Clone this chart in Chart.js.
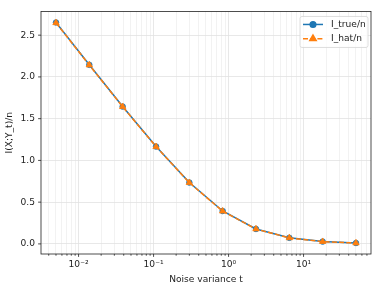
<!DOCTYPE html>
<html><head><meta charset="utf-8">
<script src="https://cdn.jsdelivr.net/npm/chart.js@4.4.1/dist/chart.umd.min.js"></script>
<style>html,body{margin:0;padding:0;background:#fff;}canvas{display:block;}</style>
</head><body>
<canvas id="c" width="381" height="291"></canvas>
<script>
const T_VALUES = [0.005, 0.0139, 0.0387, 0.108, 0.300, 0.834, 2.32, 6.46, 17.97, 50.0];
const I_TRUE   = [2.652, 2.145, 1.645, 1.166, 0.735, 0.394, 0.179, 0.073, 0.028, 0.011];
const I_HAT    = [2.648, 2.142, 1.643, 1.164, 0.733, 0.392, 0.178, 0.072, 0.027, 0.010];
const SERIES_NAMES = ['I_true/n', 'I_hat/n'];
const X_MAJOR  = [0.01, 0.1, 1, 10];
const X_LABELS = ['10\u207B\u00B2', '10\u207B\u00B9', '10\u2070', '10\u00B9'];
const Y_TICKS  = [0, 0.5, 1.0, 1.5, 2.0, 2.5];
const Y_LABELS = ['0.0', '0.5', '1.0', '1.5', '2.0', '2.5'];
const X_MIN = 0.003155, X_MAX = 79.3, Y_MIN = -0.121, Y_MAX = 2.784;

const FONT = {family: 'DejaVu Sans', size: 9.1};
const BLUE = '#1f77b4', ORANGE = '#ff7f0e';

function isMajor(v) {
  return X_MAJOR.some(m => Math.abs(m - v) / m < 1e-6);
}
function minorTicks() {
  const out = [];
  for (let e = -3; e <= 1; e++) {
    for (let k = 1; k <= 9; k++) {
      const v = k * Math.pow(10, e);
      if (v >= X_MIN && v <= X_MAX) out.push(v);
    }
  }
  return out;
}

const frame = {
  id: 'frame',
  afterDatasetsDraw(chart) {
    const ctx = chart.ctx, a = chart.chartArea;
    const xs = chart.scales.x, ys = chart.scales.y;
    ctx.save();
    ctx.strokeStyle = '#222';
    ctx.lineWidth = 0.8;
    ctx.strokeRect(a.left, a.top, a.right - a.left, a.bottom - a.top);
    ctx.beginPath();
    xs.ticks.forEach(t => {
      const px = xs.getPixelForValue(t.value);
      const len = isMajor(t.value) ? 2.9 : 1.7;
      ctx.moveTo(px, a.bottom);
      ctx.lineTo(px, a.bottom + len);
    });
    ys.ticks.forEach(t => {
      const py = ys.getPixelForValue(t.value);
      ctx.moveTo(a.left, py);
      ctx.lineTo(a.left - 2.9, py);
    });
    ctx.stroke();
    ctx.restore();
  },
  afterDraw(chart) {
    const ctx = chart.ctx, a = chart.chartArea;
    const w = 68, h = 31;
    const x0 = a.right - 3 - w, y0 = a.top + 5;
    ctx.save();
    ctx.beginPath();
    if (ctx.roundRect) ctx.roundRect(x0, y0, w, h, 2); else ctx.rect(x0, y0, w, h);
    ctx.fillStyle = 'rgba(255,255,255,0.8)';
    ctx.fill();
    ctx.strokeStyle = '#d6d6d6';
    ctx.lineWidth = 0.8;
    ctx.stroke();
    const items = [0, 1].map(i => chart.data.datasets[i]);
    items.forEach((ds, i) => {
      const y = y0 + 8 + i * 14.3;
      ctx.beginPath();
      ctx.strokeStyle = ds.borderColor;
      ctx.lineWidth = ds.borderWidth;
      ctx.setLineDash(ds.borderDash || []);
      ctx.moveTo(x0 + 3, y);
      ctx.lineTo(x0 + 23, y);
      ctx.stroke();
      ctx.setLineDash([]);
      ctx.fillStyle = ds.pointBackgroundColor;
      ctx.strokeStyle = ds.pointBorderColor;
      Chart.helpers.drawPoint(ctx, {
        pointStyle: ds.pointStyle, radius: ds.pointRadius, borderWidth: 0.8, rotation: 0
      }, x0 + 13, y);
      ctx.fillStyle = '#222';
      ctx.font = FONT.size + 'px ' + FONT.family;
      ctx.textBaseline = 'middle';
      ctx.textAlign = 'left';
      ctx.fillText(ds.label, x0 + 31, y);
    });
    ctx.restore();
  }
};

new Chart(document.getElementById('c'), {
  type: 'line',
  data: {
    datasets: [
      {
        label: SERIES_NAMES[0],
        data: T_VALUES.map((t, i) => ({x: t, y: I_TRUE[i]})),
        borderColor: BLUE, backgroundColor: BLUE,
        pointBackgroundColor: BLUE, pointBorderColor: BLUE,
        borderWidth: 1.5, pointRadius: 2.8, pointBorderWidth: 0.8,
        pointStyle: 'circle', tension: 0, fill: false, order: 1
      },
      {
        label: SERIES_NAMES[1],
        data: T_VALUES.map((t, i) => ({x: t, y: I_HAT[i]})),
        borderColor: ORANGE, backgroundColor: ORANGE,
        pointBackgroundColor: ORANGE, pointBorderColor: ORANGE,
        borderWidth: 1.5, borderDash: [5, 2.2],
        pointRadius: 3.7, pointBorderWidth: 0.8,
        pointStyle: 'triangle', tension: 0, fill: false, order: 0
      }
    ]
  },
  options: {
    responsive: false,
    animation: false,
    devicePixelRatio: 1,
    layout: {padding: {left: 0, right: 10, top: 6, bottom: 0}},
    plugins: {legend: {display: false}, tooltip: {enabled: false}},
    scales: {
      x: {
        type: 'logarithmic',
        min: X_MIN, max: X_MAX,
        afterBuildTicks: s => { s.ticks = minorTicks().map(v => ({value: v, major: isMajor(v)})); },
        afterFit: s => { s.height = 37; },
        ticks: {
          autoSkip: false, maxRotation: 0, minRotation: 0, padding: 5,
          color: '#222', font: FONT,
          callback: (v) => {
            const idx = X_MAJOR.findIndex(m => Math.abs(m - v) / m < 1e-6);
            return idx >= 0 ? X_LABELS[idx] : '';
          }
        },
        grid: {
          drawTicks: false,
          color: c => (c.tick && isMajor(c.tick.value)) ? '#e2e2e2' : '#efefef',
          lineWidth: 0.8
        },
        border: {display: false},
        title: {display: true, text: 'Noise variance t', color: '#222', font: FONT, padding: {top: 0, bottom: 6}}
      },
      y: {
        type: 'linear',
        min: Y_MIN, max: Y_MAX,
        afterBuildTicks: s => { s.ticks = Y_TICKS.map(v => ({value: v})); },
        afterFit: s => { s.width = 41; },
        ticks: {
          padding: 6, color: '#222', font: FONT,
          callback: (v) => {
            const idx = Y_TICKS.findIndex(m => Math.abs(m - v) < 1e-9);
            return idx >= 0 ? Y_LABELS[idx] : '';
          }
        },
        grid: {drawTicks: false, color: '#e2e2e2', lineWidth: 0.8},
        border: {display: false},
        title: {display: true, text: 'I(X;Y_t)/n', color: '#222', font: FONT, padding: {top: 4, bottom: 0}}
      }
    }
  },
  plugins: [frame]
});
</script>
</body></html>
